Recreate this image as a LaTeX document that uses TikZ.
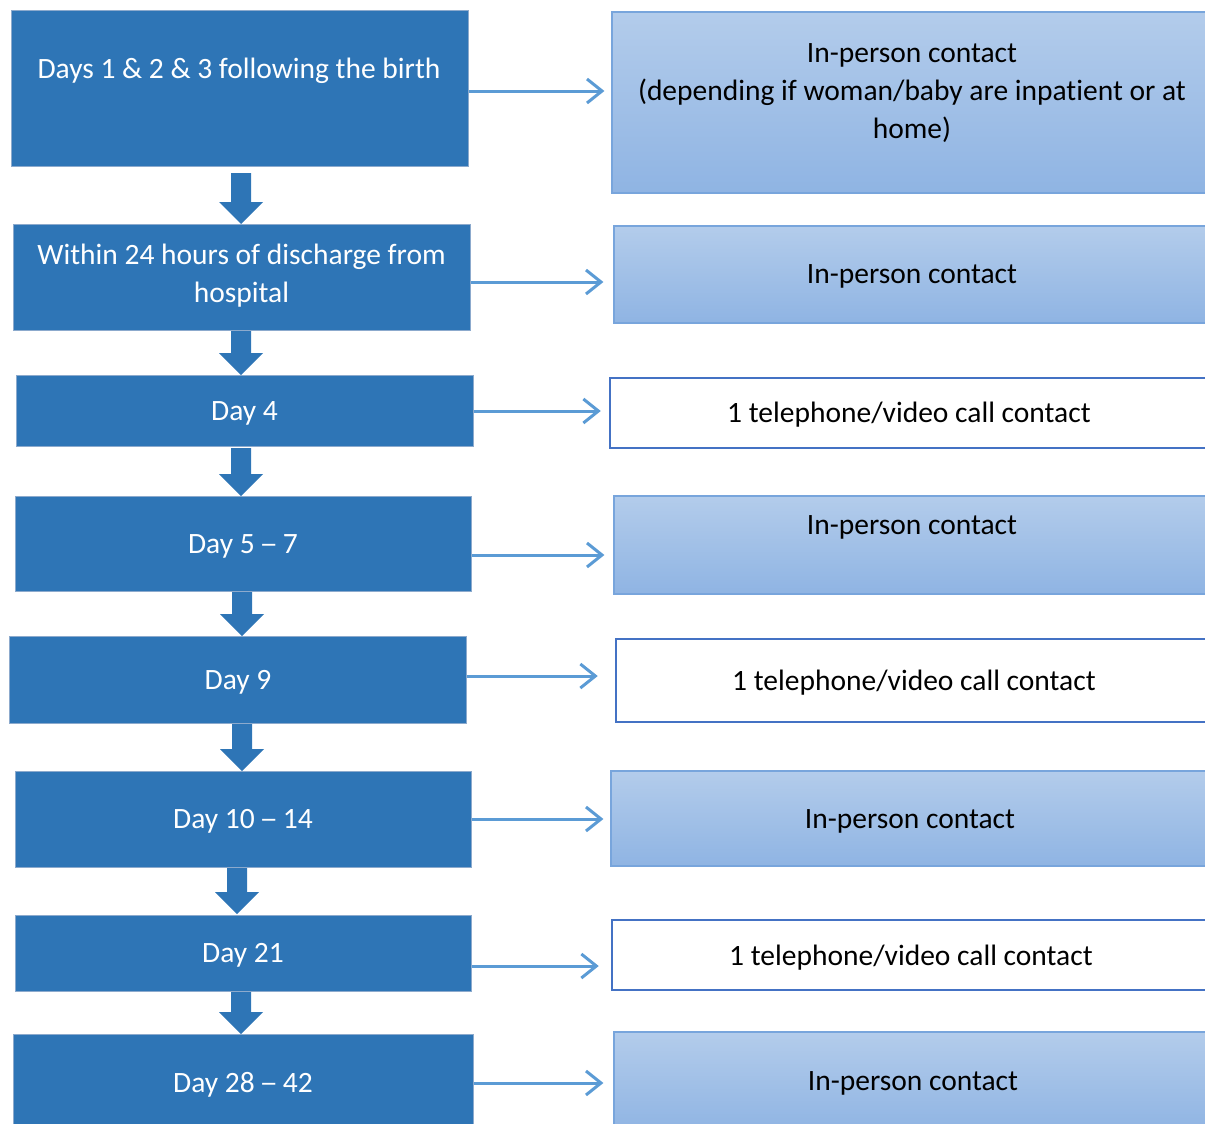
\documentclass[tikz,border=0pt]{standalone}
\usepackage{fontspec}
\setmainfont{Carlito}[Ligatures=NoCommon]
\usetikzlibrary{arrows.meta,calc}
\definecolor{boxblue}{RGB}{46,117,182}
\definecolor{boxedge}{RGB}{140,170,205}
\definecolor{arrowblue}{RGB}{91,155,213}
\definecolor{gradtop}{RGB}{179,204,235}
\definecolor{gradbot}{RGB}{143,180,227}
\definecolor{gradedge}{RGB}{120,165,220}
\definecolor{outline}{RGB}{68,114,196}
\newcommand{\ldash}{\scalebox{1.25}[1]{--}}
\tikzset{
  lbox/.style={rectangle, fill=boxblue, draw=boxedge, line width=1pt, inner sep=0pt},
  gbox/.style={rectangle, top color=gradtop, bottom color=gradbot, draw=gradedge, line width=1.2pt, inner sep=0pt},
  wbox/.style={rectangle, fill=white, draw=outline, line width=2.5pt, inner sep=0pt},
  ltext/.style={text=white, font=\fontsize{29.5}{38}\selectfont, align=center, inner sep=0pt},
  rtext/.style={text=black, font=\fontsize{29.5}{38}\selectfont, align=center, inner sep=0pt},
  harrow/.style={draw=arrowblue, line width=3pt, -{Straight Barb[length=15pt,width=24pt,line width=3pt]}},
  darrow/.style={fill=boxblue, draw=none}
}
\newcommand{\blockdown}[3]{% x, ytop, ybottom
  \fill[darrow] (#1-10,#2) -- (#1+10,#2) -- (#1+10,#3-22) -- (#1+22,#3-22) -- (#1,#3) -- (#1-22,#3-22) -- (#1-10,#3-22) -- cycle;}
\begin{document}
\begin{tikzpicture}[x=1pt,y=-1pt]
\useasboundingbox (0,0) rectangle (1205,1124);
\clip (0,0) rectangle (1205,1124);
% left boxes
\node[lbox, minimum width=457pt, minimum height=155pt] (l1) at (239.5,88.5) {};
\node[lbox, minimum width=457pt, minimum height=106pt] (l2) at (241.5,277) {};
\node[lbox, minimum width=457pt, minimum height=71pt] (l3) at (244.5,410.5) {};
\node[lbox, minimum width=456pt, minimum height=95pt] (l4) at (243,543.5) {};
\node[lbox, minimum width=457pt, minimum height=87pt] (l5) at (237.5,679.5) {};
\node[lbox, minimum width=456pt, minimum height=96pt] (l6) at (243,819) {};
\node[lbox, minimum width=456pt, minimum height=76pt] (l7) at (243,953) {};
\node[lbox, minimum width=460pt, minimum height=100pt] (l8) at (243,1084) {};
% left texts
\node[ltext] (t1) at (239,71) {Days 1 \& 2 \& 3 following the birth};
\node[ltext] (t2) at (241.5,275.5) {Within 24 hours of discharge from\\hospital};
\node[ltext] (t3) at (244.5,413) {Day 4};
\node[ltext] (t4) at (243,546) {Day 5\,\ldash\,7};
\node[ltext] (t5) at (238,682) {Day 9};
\node[ltext] (t6) at (243,821) {Day 10\,\ldash\,14};
\node[ltext] (t7) at (243,955) {Day 21};
\node[ltext] (t8) at (243,1085) {Day 28\,\ldash\,42};
% right boxes
\node[gbox, minimum width=610pt, minimum height=181pt] (r1) at (917,102.5) {};
\node[gbox, minimum width=610pt, minimum height=97pt] (r2) at (919,274.5) {};
\node[wbox, minimum width=610pt, minimum height=70pt] (r3) at (915,413) {};
\node[gbox, minimum width=610pt, minimum height=98pt] (r4) at (919,545) {};
\node[wbox, minimum width=610pt, minimum height=83pt] (r5) at (921,680.5) {};
\node[gbox, minimum width=610pt, minimum height=95pt] (r6) at (916,818.5) {};
\node[wbox, minimum width=610pt, minimum height=70pt] (r7) at (917,955) {};
\node[gbox, minimum width=610pt, minimum height=100pt] (r8) at (919,1082) {};
% right texts
\node[rtext] (s1) at (912,93) {In-person contact\\(depending if woman/baby are inpatient or at\\home)};
\node[rtext] (s2) at (912,276) {In-person contact};
\node[rtext] (s3) at (909,415) {1 telephone/video call contact};
\node[rtext] (s4) at (912,527) {In-person contact};
\node[rtext] (s5) at (914,683) {1 telephone/video call contact};
\node[rtext] (s6) at (910,821) {In-person contact};
\node[rtext] (s7) at (911,958) {1 telephone/video call contact};
\node[rtext] (s8) at (913,1083) {In-person contact};
% horizontal arrows
\draw[harrow] (l1.east |- 0,91) -- ([xshift=-7pt]r1.west |- 0,91);
\draw[harrow] (l2.east |- 0,282) -- ([xshift=-10pt]r2.west |- 0,282);
\draw[harrow] (l3.east |- 0,411) -- ([xshift=-8pt]r3.west |- 0,411);
\draw[harrow] (l4.east |- 0,555) -- ([xshift=-9pt]r4.west |- 0,555);
\draw[harrow] (l5.east |- 0,676) -- ([xshift=-17pt]r5.west |- 0,676);
\draw[harrow] (l6.east |- 0,819) -- ([xshift=-7pt]r6.west |- 0,819);
\draw[harrow] (l7.east |- 0,966) -- ([xshift=-12pt]r7.west |- 0,966);
\draw[harrow] (l8.east |- 0,1083) -- ([xshift=-10pt]r8.west |- 0,1083);
% down block arrows
\blockdown{241}{173}{224}
\blockdown{241}{331}{375}
\blockdown{241}{448}{496}
\blockdown{242}{592}{636}
\blockdown{242}{724}{771}
\blockdown{237}{868}{914}
\blockdown{241}{992}{1034}
\end{tikzpicture}
\end{document}
